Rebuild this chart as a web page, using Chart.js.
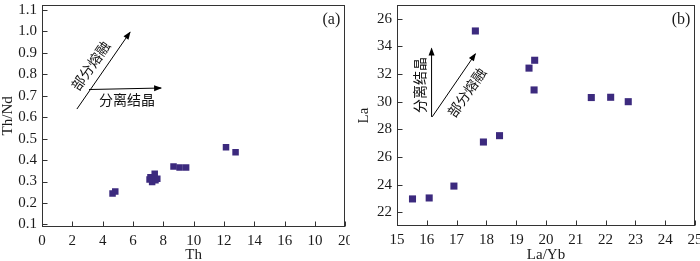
<!DOCTYPE html>
<html>
<head>
<meta charset="utf-8">
<script src="https://cdn.jsdelivr.net/npm/chart.js@4"></script>
<style>
    html, body { margin: 0; padding: 0; background: #fff; }
    #wrap { position: relative; width: 700px; height: 261px; overflow: hidden; }
    .panel { position: absolute; top: 0; width: 350px; height: 261px; }
</style>
</head>
<body>
<div id="wrap">
    <div class="panel" style="left:0"><canvas id="chartA" width="350" height="261"></canvas></div>
    <div class="panel" style="left:350px"><canvas id="chartB" width="350" height="261"></canvas></div>
</div>
<script>
// --- DATA ---
// panel (a): Th vs Th/Nd
const thValues = [4.65, 4.83, 7.09, 7.15, 7.26, 7.43, 7.48, 7.6, 8.67, 9.07, 9.5, 12.13, 12.76];
const thNdValues = [0.244, 0.253, 0.31, 0.32, 0.298, 0.336, 0.306, 0.313, 0.37, 0.366, 0.366, 0.46, 0.436];
const thTicks = [0, 2, 4, 6, 8, 10, 12, 14, 16, 18, 20];
const thTickLabels = ['0', '2', '4', '6', '8', '10', '12', '14', '16', '10', '20']; // as printed in the figure
const thNdTicks = [0.1, 0.2, 0.3, 0.4, 0.5, 0.6, 0.7, 0.8, 0.9, 1.0, 1.1];
const thNdTickLabels = ['0.1', '0.2', '0.3', '0.4', '0.5', '0.6', '0.7', '0.8', '0.9', '1.0', '1.1'];

// panel (b): La/Yb vs La
const laYbValues = [15.52, 16.08, 16.91, 17.63, 17.9, 18.44, 19.43, 19.62, 19.6, 21.52, 22.17, 22.76];
const laValues = [22.96, 23.03, 23.89, 35.12, 27.08, 27.54, 32.43, 33.0, 30.85, 30.3, 30.32, 30.0];
const laYbTicks = [15, 16, 17, 18, 19, 20, 21, 22, 23, 24, 25];
const laYbTickLabels = ['15', '16', '17', '18', '19', '20', '21', '22', '23', '24', '25'];
const laTicks = [22, 24, 26, 28, 30, 32, 34, 36];
const laTickLabels = ['22', '24', '26', '28', '30', '32', '34', '26']; // top label printed as 26

const markColor = '#3c2a7e';
const inkColor = '#1a1a1a';
const serif = '"Liberation Serif", "Times New Roman", serif';
const cjk = '"Noto Sans CJK SC", sans-serif';

// frame, inward ticks, axis titles and arrow notes
const framePlugin = {
    id: 'frame',
    afterDraw(chart, args, opts) {
        const { ctx, chartArea: a, scales } = chart;
        const L = Math.round(a.left) + 0.5, R = Math.round(a.right) - 0.5;
        const T = Math.round(a.top) + 0.5, B = Math.round(a.bottom) - 0.5;
        ctx.save();
        ctx.strokeStyle = '#333';
        ctx.lineWidth = 1;
        ctx.strokeRect(L, T, R - L, B - T);

        ctx.beginPath();
        scales.x.ticks.forEach(t => {
            const px = Math.round(scales.x.getPixelForValue(t.value)) + 0.5;
            ctx.moveTo(px, B); ctx.lineTo(px, B - 5);
        });
        scales.y.ticks.forEach(t => {
            const py = Math.round(scales.y.getPixelForValue(t.value)) + 0.5;
            ctx.moveTo(L, py); ctx.lineTo(L + 5, py);
        });
        ctx.stroke();

        // axis titles
        ctx.fillStyle = inkColor;
        ctx.font = '15px ' + serif;
        ctx.textAlign = 'center';
        ctx.textBaseline = 'middle';
        ctx.fillText(opts.xTitle, (a.left + a.right) / 2, 255);
        ctx.save();
        ctx.translate(opts.yTitleX, (a.top + a.bottom) / 2);
        ctx.rotate(-Math.PI / 2);
        ctx.fillText(opts.yTitle, 0, 0);
        ctx.restore();

        // panel tag
        ctx.font = '16px ' + serif;
        ctx.fillText(opts.tag, a.right - 14, a.top + 15);

        // arrows
        ctx.fillStyle = '#000';
        ctx.strokeStyle = '#000';
        opts.arrows.forEach(ar => {
            const x1 = scales.x.getPixelForValue(ar.from[0]), y1 = scales.y.getPixelForValue(ar.from[1]);
            const x2 = scales.x.getPixelForValue(ar.to[0]), y2 = scales.y.getPixelForValue(ar.to[1]);
            const ang = Math.atan2(y2 - y1, x2 - x1);
            ctx.beginPath();
            ctx.moveTo(x1, y1); ctx.lineTo(x2, y2);
            ctx.stroke();
            ctx.save();
            ctx.translate(x2, y2);
            ctx.rotate(ang);
            ctx.beginPath();
            ctx.moveTo(1, 0);
            ctx.lineTo(-7, -3);
            ctx.lineTo(-7, 3);
            ctx.closePath();
            ctx.fill();
            ctx.restore();
        });

        // notes
        ctx.font = '14px ' + cjk;
        ctx.fillStyle = '#111';
        opts.notes.forEach(n => {
            ctx.save();
            ctx.translate(scales.x.getPixelForValue(n.x), scales.y.getPixelForValue(n.y));
            ctx.rotate(n.angle * Math.PI / 180);
            ctx.fillText(n.text, 0, 0);
            ctx.restore();
        });
        ctx.restore();
    }
};

function buildScatter(canvasId, xs, ys, p) {
    const points = xs.map((x, i) => ({ x: x, y: ys[i] }));
    const tickFont = { family: serif, size: 15 };
    return new Chart(document.getElementById(canvasId), {
        type: 'scatter',
        data: {
            datasets: [{
                data: points,
                pointStyle: 'rect',
                pointRadius: p.radius,
                pointHoverRadius: p.radius,
                backgroundColor: markColor,
                borderColor: markColor,
                borderWidth: 0
            }]
        },
        options: {
            responsive: false,
            animation: false,
            events: [],
            layout: { padding: { left: 0, right: p.padRight, top: p.padTop, bottom: 0 } },
            plugins: {
                legend: { display: false },
                tooltip: { enabled: false },
                frame: p.frame
            },
            scales: {
                x: {
                    type: 'linear',
                    min: p.xMin, max: p.xMax,
                    grid: { display: false, drawTicks: false },
                    border: { display: false },
                    afterBuildTicks: s => { s.ticks = p.xTicks.map(v => ({ value: v })); },
                    afterFit: s => { s.height = p.xAxisHeight; s.paddingLeft = 0; s.paddingRight = 0; },
                    ticks: { font: tickFont, color: inkColor, padding: 5, maxRotation: 0, autoSkip: false,
                        callback: (v, i) => p.xLabels[i] }
                },
                y: {
                    type: 'linear',
                    min: p.yMin, max: p.yMax,
                    grid: { display: false, drawTicks: false },
                    border: { display: false },
                    afterBuildTicks: s => { s.ticks = p.yTicks.map(v => ({ value: v })); },
                    afterFit: s => { s.width = p.yAxisWidth; s.paddingTop = 0; s.paddingBottom = 0; },
                    ticks: { font: tickFont, color: inkColor, padding: 5, autoSkip: false,
                        callback: (v, i) => p.yLabels[i] }
                }
            }
        },
        plugins: [framePlugin]
    });
}

document.addEventListener('DOMContentLoaded', () => {
    buildScatter('chartA', thValues, thNdValues, {
        radius: 4.6,
        xMin: 0, xMax: 20, xTicks: thTicks, xLabels: thTickLabels,
        yMin: 0.088, yMax: 1.125, yTicks: thNdTicks, yLabels: thNdTickLabels,
        padRight: 3, padTop: 1, xAxisHeight: 34, yAxisWidth: 42,
        frame: {
            xTitle: 'Th', yTitle: 'Th/Nd', yTitleX: 8, tag: '(a)',
            arrows: [
                { from: [2.3, 0.638], to: [5.8, 0.996] },
                { from: [3.1, 0.729], to: [7.85, 0.736] }
            ],
            notes: [
                { text: '部分熔融', x: 3.2, y: 0.84, angle: -55 },
                { text: '分离结晶', x: 5.6, y: 0.68, angle: 0 }
            ]
        }
    });

    buildScatter('chartB', laYbValues, laValues, {
        radius: 5,
        xMin: 15, xMax: 25, xTicks: laYbTicks, xLabels: laYbTickLabels,
        yMin: 21, yMax: 37, yTicks: laTicks, yLabels: laTickLabels,
        padRight: 3, padTop: 3, xAxisHeight: 35, yAxisWidth: 47,
        frame: {
            xTitle: 'La/Yb', yTitle: 'La', yTitleX: 14, tag: '(b)',
            arrows: [
                { from: [16.16, 28.9], to: [16.16, 33.85] },
                { from: [16.18, 28.9], to: [17.63, 33.46] }
            ],
            notes: [
                { text: '分离结晶', x: 15.77, y: 31.2, angle: -90 },
                { text: '部分熔融', x: 17.34, y: 30.67, angle: -55 }
            ]
        }
    });
});
</script>
</body>
</html>
